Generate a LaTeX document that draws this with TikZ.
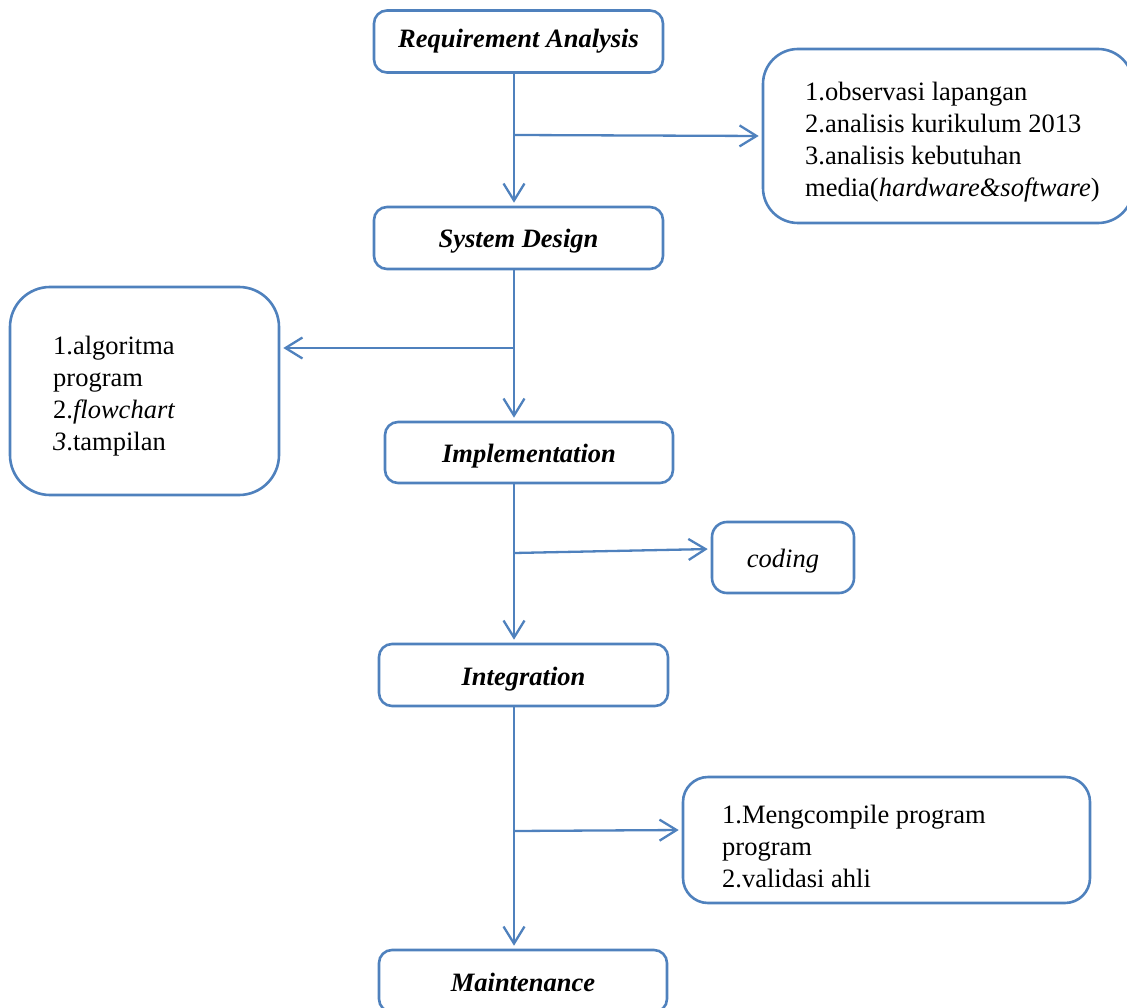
\documentclass[tikz,border=0pt]{standalone}
\usepackage{fontspec}
\setmainfont{Liberation Serif}
\usetikzlibrary{arrows.meta}
\definecolor{wordblue}{RGB}{79,129,189}
\begin{document}
\begin{tikzpicture}
	[x=1pt,y=-1pt,
	 phase box/.style={draw=wordblue,line width=2.6pt,rounded corners=13pt,minimum width=289pt,minimum height=62pt,inner sep=0pt,text height=20pt,text depth=0pt,font=\fontsize{26.5}{32}\selectfont\bfseries\itshape},
	 note box/.style={draw=wordblue,line width=2.6pt,rounded corners=#1,inner sep=0pt},note box/.default=35pt,
	 note text/.style={anchor=west,align=left,inner sep=0pt,font=\fontsize{26.5}{32}\selectfont},
	 flow/.style={draw=wordblue,line width=2.3pt,-{Straight Barb[length=17pt,width=21pt]},shorten >=3pt}]
	\useasboundingbox (0,0) rectangle (1127,1008);
	% phases
	\node[phase box,text depth=8pt] (req) at (518.5,41.5) {Requirement Analysis};
	\node[phase box] (sys) at (518.5,238) {System Design};
	\node[phase box,minimum width=288pt,minimum height=61pt] (impl) at (529,452.5) {Implementation};
	\node[phase box] (integ) at (523.5,675) {Integration};
	\node[phase box,minimum width=288pt] (maint) at (523,981) {Maintenance};
	% side boxes
	\node[note box,minimum width=370pt,minimum height=174pt] (obs) at (948,136) {};
	\node[note text] (obstext) at (805,142) {1.observasi lapangan\\2.analisis kurikulum 2013\\3.analisis kebutuhan\\media(\textit{hardware\&software})};
	\node[note box=40pt,minimum width=269pt,minimum height=208pt] (alg) at (144.5,391) {};
	\node[note text] (algtext) at (53,396) {1.algoritma\\program\\2.\textit{flowchart}\\\textit{3}.tampilan};
	\node[note box=15pt,minimum width=142pt,minimum height=71pt,text height=19pt,text depth=0pt,font=\fontsize{26.5}{32}\selectfont\itshape] (code) at (783,557.5) {coding};
	\node[note box=25pt,minimum width=407pt,minimum height=126pt] (comp) at (886.5,840) {};
	\node[note text] (comptext) at (722,846) {1.Mengcompile program\\program\\2.validasi ahli};
	% connectors
	\coordinate (fork1) at (514,135);
	\coordinate (fork2) at (514,348);
	\coordinate (fork3) at (514,553);
	\coordinate (fork4) at (514,831);
	\draw[flow] (fork1 |- req.south) -- (fork1 |- sys.north);
	\draw[flow] (fork1) -- (obs.west);
	\draw[flow] (fork2 |- sys.south) -- (fork2 |- impl.north);
	\draw[flow] (fork2) -- (fork2 -| alg.east);
	\draw[flow] (fork3 |- impl.south) -- (fork3 |- integ.north);
	\draw[flow] (fork3) -- ([yshift=8.5pt]code.west);
	\draw[flow] (fork4 |- integ.south) -- (fork4 |- maint.north);
	\draw[flow] (fork4) -- ([yshift=10pt]comp.west);
\end{tikzpicture}
\end{document}
